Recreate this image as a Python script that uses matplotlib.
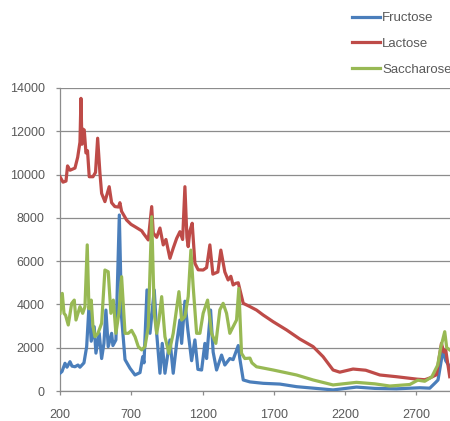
import matplotlib
matplotlib.use("Agg")
import matplotlib.pyplot as plt

# ---- data ----
fructose_x = [200, 214, 235, 249, 270, 284, 305, 326, 340, 368, 387, 403, 419, 440, 452, 475,
              492, 508, 522, 538, 562, 571, 592, 616, 632, 656, 691, 726, 761, 780, 789, 810,
              831, 861, 878, 901, 917, 936, 971, 994, 1018, 1041, 1053, 1076, 1097, 1123, 1146,
              1167, 1193, 1216, 1228, 1256, 1274, 1298, 1333, 1356, 1391, 1414, 1450, 1461,
              1485, 1532, 1625, 1742, 1859, 2115, 2279, 2408, 2560, 2723, 2793, 2835, 2851,
              2886, 2905, 2933]
fructose_y = [820, 900, 1280, 1100, 1355, 1150, 1120, 1200, 1100, 1300, 2050, 3900, 2300, 2970,
              1750, 2665, 1500, 2200, 3740, 2050, 2665, 2100, 2360, 8130, 3400, 1450, 1050, 740,
              850, 1585, 1300, 4670, 2665, 4670, 2665, 820, 2200, 820, 2360, 820, 2200, 3280,
              2200, 4150, 2800, 1400, 2360, 1000, 970, 2200, 1500, 3740, 1800, 970, 1660, 1200,
              1500, 1450, 2100, 1500, 510, 420, 355, 320, 200, 50, 180, 120, 100, 150, 130, 400,
              510, 1890, 1400, 1120]

lactose_x = [200, 221, 242, 253, 270, 305, 324, 340, 347, 354, 361, 370, 382, 393, 405, 431,
             449, 464, 480, 492, 515, 545, 562, 585, 610, 620, 632, 667, 698, 726, 773, 784,
             819, 843, 854, 878, 901, 924, 943, 971, 994, 1018, 1041, 1060, 1076, 1090, 1099,
             1111, 1127, 1146, 1169, 1204, 1228, 1251, 1272, 1307, 1328, 1356, 1379, 1398,
             1414, 1433, 1450, 1461, 1485, 1532, 1578, 1625, 1695, 1789, 1882, 1975, 2045,
             2115, 2162, 2255, 2344, 2443, 2560, 2700, 2758, 2793, 2840, 2875, 2891, 2905,
             2933]
lactose_y = [9900, 9650, 9700, 10400, 10200, 10300, 10800, 11500, 13520, 11400, 12100, 12060,
             11000, 11100, 9900, 9900, 10100, 11680, 10070, 9130, 8750, 9440, 8700, 8520, 8500,
             8700, 8300, 7900, 7700, 7590, 7400, 7290, 6980, 8520, 7300, 7100, 7530, 6750, 7000,
             6130, 6600, 7050, 7360, 7000, 9440, 7100, 6670, 7400, 7750, 5900, 5600, 5590, 5700,
             6750, 5400, 5500, 6510, 5500, 5130, 5300, 4900, 4975, 5000, 4700, 4050, 3900, 3740,
             3510, 3200, 2820, 2400, 2050, 1585, 970, 870, 1015, 960, 740, 660, 550, 520, 600,
             750, 2200, 1800, 1900, 660]

saccharose_x = [200, 216, 228, 239, 258, 282, 300, 312, 340, 359, 375, 391, 403, 419, 431, 445,
                466, 492, 515, 538, 557, 574, 592, 613, 632, 656, 679, 702, 726, 749, 773, 796,
                819, 843, 861, 878, 894, 913, 936, 964, 994, 1034, 1053, 1076, 1099, 1118, 1134,
                1158, 1181, 1204, 1235, 1263, 1293, 1321, 1344, 1368, 1391, 1414, 1438, 1454,
                1473, 1496, 1532, 1546, 1578, 1695, 1859, 1975, 2115, 2279, 2408, 2513, 2653,
                2709, 2758, 2807, 2849, 2870, 2898, 2912, 2933]
saccharose_y = [3590, 4510, 3590, 3500, 3050, 4050, 4200, 3280, 3900, 3590, 3900, 6750, 3800,
                4200, 3000, 2510, 2660, 3130, 5590, 5510, 3590, 4200, 2665, 3590, 5280, 2665,
                2665, 2800, 2510, 2050, 1900, 2050, 2970, 8050, 3590, 2665, 3280, 4360, 2510,
                1740, 2665, 4590, 3280, 3430, 4360, 6510, 4820, 2665, 2665, 3590, 4200, 2665,
                2200, 3750, 4050, 3590, 2665, 2970, 3280, 4740, 1740, 1500, 1520, 1300, 1120,
                970, 740, 510, 280, 400, 330, 230, 300, 500, 450, 650, 1200, 2000, 2740, 2000,
                1900]

series_names = ["Fructose", "Lactose", "Saccharose"]
series_colors = ["#4A7EBB", "#BE4B48", "#98B954"]
x_ticks = [200, 700, 1200, 1700, 2200, 2700]
y_ticks = [0, 2000, 4000, 6000, 8000, 10000, 12000, 14000]

plt.rcParams['font.family'] = ['Liberation Sans', 'DejaVu Sans']

W, H = 450, 421
fig = plt.figure(figsize=(W / 100, H / 100), dpi=100)
ax = fig.add_axes([60 / W, 1 - 391 / H, (450 - 60) / W, (391 - 88) / H])

grid_c = "#8C8C8C"
handles = []
for xs, ys, name, col in zip([fructose_x, lactose_x, saccharose_x],
                             [fructose_y, lactose_y, saccharose_y],
                             series_names, series_colors):
    ln, = ax.plot(xs, ys, color=col, lw=2.3, label=name, solid_joinstyle='round', zorder=3)
    handles.append(ln)

ax.set_xlim(200, 2935)
ax.set_ylim(0, 14000)
ax.set_xticks(x_ticks)
ax.set_yticks(y_ticks)
ax.set_xticklabels([str(t) for t in x_ticks])
ax.set_yticklabels([str(t) for t in y_ticks])
ax.grid(axis='y', color=grid_c, lw=0.9)
ax.set_axisbelow(True)
for s in ['top', 'right']:
    ax.spines[s].set_visible(False)
for s in ['left', 'bottom']:
    ax.spines[s].set_color(grid_c)
    ax.spines[s].set_linewidth(0.9)
ax.tick_params(axis='both', colors=grid_c, length=3, width=0.9, labelsize=9,
               labelcolor="#595959")
ax.tick_params(axis='y', pad=8)
ax.tick_params(axis='x', pad=10)

fig.legend(handles=handles, labels=series_names, loc='upper left',
           bbox_to_anchor=(352 / W, 1 - 12 / H), frameon=False, borderpad=0,
           borderaxespad=0, handlelength=2.15, handletextpad=0.15, labelspacing=1.02,
           fontsize=9.5, labelcolor="#595959")

fig.savefig("out.png", dpi=100)
